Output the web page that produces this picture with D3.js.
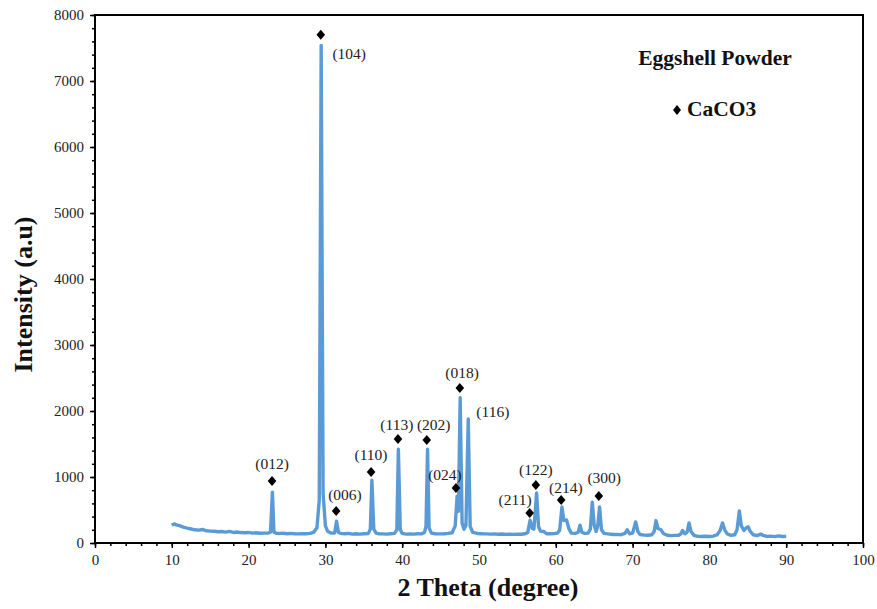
<!DOCTYPE html>
<html><head><meta charset="utf-8">
<script src="https://cdn.jsdelivr.net/npm/d3@7"></script>
<style>
body{margin:0;background:#fff;}
svg{display:block;}
text{font-family:"Liberation Serif","Times New Roman",serif;}
</style></head>
<body>
<svg id="chart" width="877" height="609"></svg>
<script>
// XRD pattern points [2theta, intensity]
const pattern = [
[10.0,270],[10.3,290],[10.6,275],[11.0,262],[11.5,240],[12.0,225],[12.5,212],[13.0,200],[13.5,195],[14.0,205],
[14.5,185],[15.0,180],[15.5,178],[16.0,170],[16.5,174],[17.0,165],[17.5,176],[18.0,160],[18.5,166],[19.0,158],
[19.5,155],[20.0,160],[20.5,150],[21.0,155],[21.5,148],[22.0,150],[22.5,150],[22.85,165],[23.1,770],[23.3,165],
[23.6,148],[24.0,145],[24.5,150],[25.0,140],[25.5,145],[26.0,140],[26.5,138],[27.0,142],[27.5,140],[28.0,145],
[28.5,165],[28.9,230],[29.2,650],[29.45,7540],[29.7,750],[30.0,260],[30.3,175],[30.8,150],[31.2,150],[31.45,330],
[31.7,160],[32.0,145],[32.5,140],[33.0,145],[33.5,135],[34.0,140],[34.5,135],[35.0,140],[35.6,145],[35.85,210],
[36.05,950],[36.3,210],[36.6,150],[37.0,140],[37.5,138],[38.0,135],[38.5,140],[39.0,145],[39.3,200],[39.5,1420],
[39.75,200],[40.0,145],[40.5,135],[41.0,138],[41.5,135],[42.0,140],[42.5,138],[42.9,160],[43.1,250],[43.3,1420],
[43.5,230],[43.8,150],[44.3,140],[45.0,138],[45.5,140],[46.0,145],[46.5,155],[46.9,260],[47.15,710],[47.32,480],
[47.55,2200],[47.8,300],[48.05,210],[48.3,270],[48.6,1880],[48.85,250],[49.2,160],[49.8,145],[50.5,140],[51.0,138],
[51.5,135],[52.0,138],[52.5,132],[53.0,136],[53.5,130],[54.0,134],[54.5,130],[55.0,135],[55.5,132],[56.0,140],
[56.35,160],[56.65,345],[56.95,220],[57.15,210],[57.5,760],[57.75,250],[58.0,180],[58.4,175],[58.8,140],[59.3,140],
[59.8,142],[60.2,150],[60.5,190],[60.8,545],[61.05,340],[61.4,350],[61.7,220],[62.0,150],[62.5,145],[62.9,160],
[63.15,270],[63.4,160],[63.8,145],[64.2,150],[64.5,210],[64.75,620],[65.0,270],[65.25,175],[65.45,250],[65.7,545],
[65.95,200],[66.3,145],[67.0,135],[67.5,128],[68.0,130],[68.5,126],[69.0,145],[69.3,200],[69.6,140],[70.0,150],
[70.4,320],[70.7,170],[71.0,128],[71.5,120],[72.0,118],[72.5,125],[72.8,170],[73.05,340],[73.3,220],[73.7,200],
[74.0,145],[74.5,118],[75.0,112],[75.5,115],[76.0,118],[76.3,140],[76.5,190],[76.8,140],[77.1,165],[77.35,305],
[77.6,175],[78.0,115],[78.5,100],[79.0,98],[79.5,102],[80.0,98],[80.5,105],[81.0,125],[81.4,190],[81.7,305],
[82.0,200],[82.3,140],[82.8,115],[83.3,125],[83.6,200],[83.9,485],[84.15,260],[84.5,190],[84.8,230],[85.05,245],
[85.3,180],[85.7,125],[86.2,112],[86.7,135],[87.0,115],[87.5,100],[88.0,104],[88.5,96],[89.0,108],[89.5,98],[90.0,100]
];

// Reflection annotations
const hkl = ["(012)","(104)","(006)","(110)","(113)","(202)","(024)","(018)","(116)","(211)","(122)","(214)","(300)"];
const markTheta =     [23.05, 29.4, 31.4, 35.95, 39.45, 43.2, 47.0, 47.5, null, 56.6, 57.4, 60.7, 65.6];
const markIntensity = [939,  7700,  485, 1076,  1576,  1561,  833, 2348, null,  455,  879,  652,  712];
const labelTheta =     [23.05, 33.1, 32.55, 35.94, 39.3, 44.1, 45.57, 47.8, 51.8, 54.7, 57.4, 61.3, 66.3];
const labelIntensity = [1197, 7424,  742,  1348, 1803, 1803, 1045, 2576, 1985,  652, 1121,  848,  985];

const xMajorTicks = d3.range(0, 101, 10);
const xMinorTicks = d3.range(0, 101, 2);
const yMajorTicks = d3.range(0, 8001, 1000);
const yMinorTicks = d3.range(0, 8001, 200);

const svg = d3.select("#chart");
const L = 95, R = 863, T = 15, B = 543;
const x = d3.scaleLinear().domain([0, 100]).range([L, R]);
const y = d3.scaleLinear().domain([0, 8000]).range([B, T]);

// minor ticks
svg.append("g").attr("transform", `translate(0,${B})`)
  .call(d3.axisBottom(x).tickValues(xMinorTicks).tickSize(3).tickSizeOuter(0).tickFormat(""))
  .call(g => g.select(".domain").remove())
  .call(g => g.selectAll("line").attr("stroke", "#000").attr("stroke-width", 1.5));
svg.append("g").attr("transform", `translate(${L},0)`)
  .call(d3.axisLeft(y).tickValues(yMinorTicks).tickSize(3).tickSizeOuter(0).tickFormat(""))
  .call(g => g.select(".domain").remove())
  .call(g => g.selectAll("line").attr("stroke", "#000").attr("stroke-width", 1.5));

// major axes
const xa = svg.append("g").attr("transform", `translate(0,${B})`)
  .call(d3.axisBottom(x).tickValues(xMajorTicks).tickSize(5).tickSizeOuter(0).tickPadding(6).tickFormat(d3.format("d")));
const ya = svg.append("g").attr("transform", `translate(${L},0)`)
  .call(d3.axisLeft(y).tickValues(yMajorTicks).tickSize(5).tickSizeOuter(0).tickPadding(6).tickFormat(d3.format("d")));
[xa, ya].forEach(g => {
  g.select(".domain").remove();
  g.selectAll("line").attr("stroke", "#000").attr("stroke-width", 1.5);
  g.selectAll("text").attr("fill", "#222").style("font-size", "15px")
    .style("font-family", '"Liberation Serif","Times New Roman",serif');
});

// frame
svg.append("rect").attr("x", L).attr("y", T).attr("width", R - L).attr("height", B - T)
  .attr("fill", "none").attr("stroke", "#000").attr("stroke-width", 2);

// pattern line
const line = d3.line().x(d => x(d[0])).y(d => y(d[1]));
svg.append("path").datum(pattern).attr("d", line)
  .attr("fill", "none").attr("stroke", "#5B9BD5").attr("stroke-width", 3.4)
  .attr("stroke-linejoin", "round");

// diamonds
const diamond = "M0,-5L4.3,0L0,5L-4.3,0Z";
hkl.forEach((h, i) => {
  if (markTheta[i] != null) {
    svg.append("path").attr("d", diamond)
      .attr("transform", `translate(${x(markTheta[i])},${y(markIntensity[i])})`)
      .attr("fill", "#000");
  }
  svg.append("text").attr("x", x(labelTheta[i])).attr("y", y(labelIntensity[i]))
    .attr("text-anchor", "middle").attr("dominant-baseline", "central")
    .style("font-size", "15.5px").attr("fill", "#222").text(h);
});

// axis titles
svg.append("text").attr("x", 488).attr("y", 596)
  .attr("text-anchor", "middle").style("font-size", "26px").style("font-weight", "bold")
  .attr("fill", "#111").text("2 Theta (degree)");
svg.append("text").attr("transform", "translate(32,294.5) rotate(-90)")
  .attr("text-anchor", "middle").style("font-size", "26px").style("font-weight", "bold")
  .attr("fill", "#111").text("Intensity (a.u)");

// legend
svg.append("text").attr("x", 715).attr("y", 65).attr("text-anchor", "middle")
  .style("font-size", "21.5px").style("font-weight", "bold").attr("fill", "#111").text("Eggshell Powder");
svg.append("path").attr("d", "M0,-5L4,0L0,5L-4,0Z").attr("transform", "translate(677,110)").attr("fill", "#000");
svg.append("text").attr("x", 687).attr("y", 116)
  .style("font-size", "21.5px").style("font-weight", "bold").attr("fill", "#111").text("CaCO3");
</script>
</body></html>
